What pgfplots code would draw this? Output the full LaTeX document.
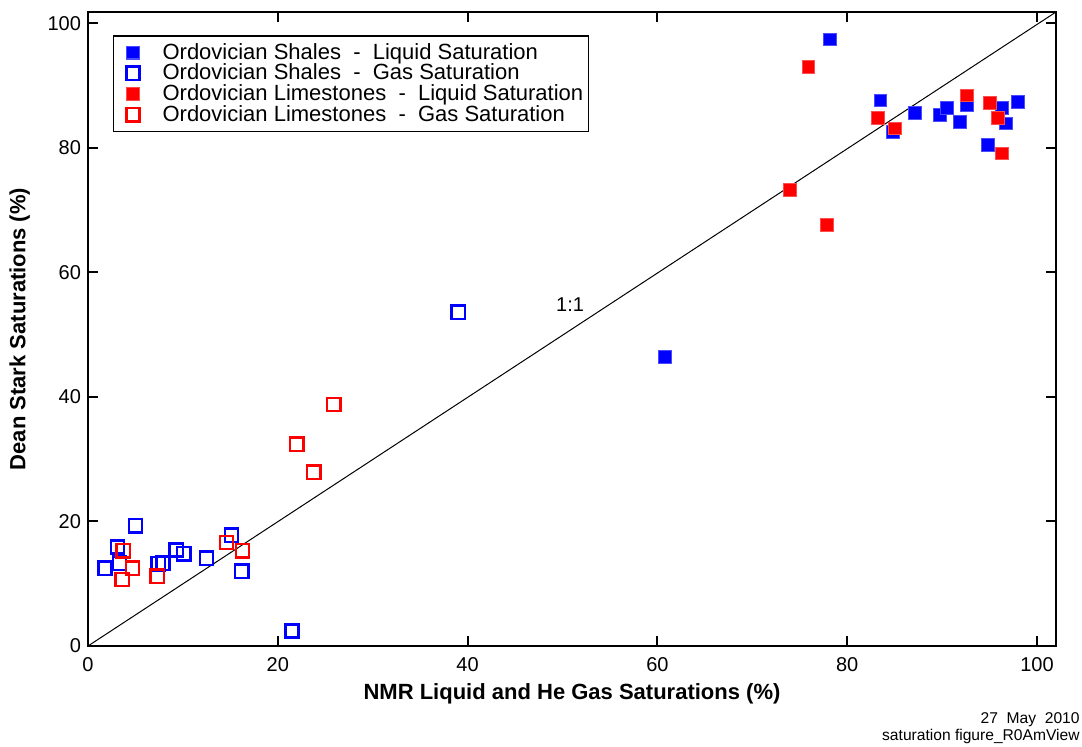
\documentclass[border=0pt]{standalone}
\usepackage{fontspec}
\setmainfont{Liberation Sans}
\usepackage{pgfplots}
\pgfplotsset{compat=1.18}
\pgfplotsset{markleg/.style={legend image code/.code={\path (0pt,0pt); \draw[##1] plot coordinates {(8pt,0pt)};}}}

\begin{document}
\begin{tikzpicture}
\begin{axis}[
  width=484pt, height=317pt, scale only axis,
  xmin=0, xmax=102, ymin=0, ymax=101.8,
  xtick={0,20,...,100}, ytick={0,20,...,100},
  tick align=inside, major tick length=5pt,
  axis line style={line width=1.4pt},
  tick style={line width=1pt, black},
  ticklabel style={font=\fontsize{10}{12}\selectfont},
  xticklabel style={yshift=-2pt},
  /pgf/number format/assume math mode=true,
  xlabel={\textbf{NMR\ Liquid\ and\ He\ Gas\ Saturations\ (\%)}},
  ylabel={\textbf{Dean\ Stark\ Saturations\ (\%)}},
  label style={font=\fontsize{11}{13}\selectfont},
  xlabel style={yshift=0.5pt},
  ylabel style={yshift=2pt},
  legend style={at={(rel axis cs:0.026,0.963)}, anchor=north west,
    font=\fontsize{11}{11.5}\selectfont, draw=black, line width=0.6pt,
    row sep=-2.1pt, inner xsep=1pt, inner ysep=2pt,
    nodes={inner sep=1.5pt},
    /tikz/every odd column/.append style={column sep=10pt}},
  legend cell align=left,
  clip=false,
]
\addplot[only marks, mark=square*, mark size=3.2pt, color=blue, mark options={fill=blue, draw=blue!70}, markleg] coordinates {
  (78.2,97.4) (60.8,46.4) (83.5,87.6) (84.8,82.5) (87.1,85.6) (89.8,85.3)
  (90.5,86.4) (91.9,84.2) (92.6,86.8) (94.8,80.4) (96.3,86.4) (96.7,83.9)
  (98.0,87.4)
};
\addlegendentry{Ordovician\ Shales\ \ -\ \ Liquid\ Saturation}
\addplot[only marks, mark=square, mark size=3.3pt, color=blue, line width=1.2pt, markleg] coordinates {
  (39.0,53.6) (21.5,2.4) (5.0,19.3) (3.1,15.9) (1.8,12.5) (3.3,13.3)
  (7.4,13.2) (7.9,13.3) (9.3,15.4) (10.1,14.8) (12.5,14.1) (15.1,17.8)
  (16.2,12.0)
};
\addlegendentry{Ordovician\ Shales\ \ -\ \ Gas\ Saturation}
\addplot[only marks, mark=square*, mark size=3.2pt, color=red, mark options={fill=red, draw=red!70}, markleg] coordinates {
  (75.9,93.0) (74.0,73.2) (77.9,67.6) (83.2,84.8) (85.0,83.1) (92.6,88.4)
  (95.0,87.2) (95.9,84.8) (96.3,79.1)
};
\addlegendentry{Ordovician\ Limestones\ \ -\ \ Liquid\ Saturation}
\addplot[only marks, mark=square, mark size=3.3pt, color=red, line width=1.2pt, markleg] coordinates {
  (3.7,15.3) (4.7,12.5) (3.6,10.7) (7.3,11.2) (14.6,16.6) (16.3,15.3)
  (22.0,32.4) (23.8,27.9) (25.9,38.8)
};
\addlegendentry{Ordovician\ Limestones\ \ -\ \ Gas\ Saturation}
\addplot[black, line width=0.5pt, forget plot] coordinates {(0,0) (102,101.8)};
\node[font=\fontsize{10}{12}\selectfont] at (axis cs:50.8,54.8) {1:1};
\coordinate (tl) at (rel axis cs:0,1);
\coordinate (br) at (rel axis cs:1,0);
\node[anchor=north east, align=right, font=\fontsize{7.8}{8.5}\selectfont, inner sep=0pt]
  at ([xshift=12pt, yshift=-33pt]br) {27\ \ May\ \ 2010\\saturation\ figure\_R0AmView};
\end{axis}
\path (tl) ++(-44pt,6pt);
\path (br) ++(13pt,-50pt);
\end{tikzpicture}
\end{document}
